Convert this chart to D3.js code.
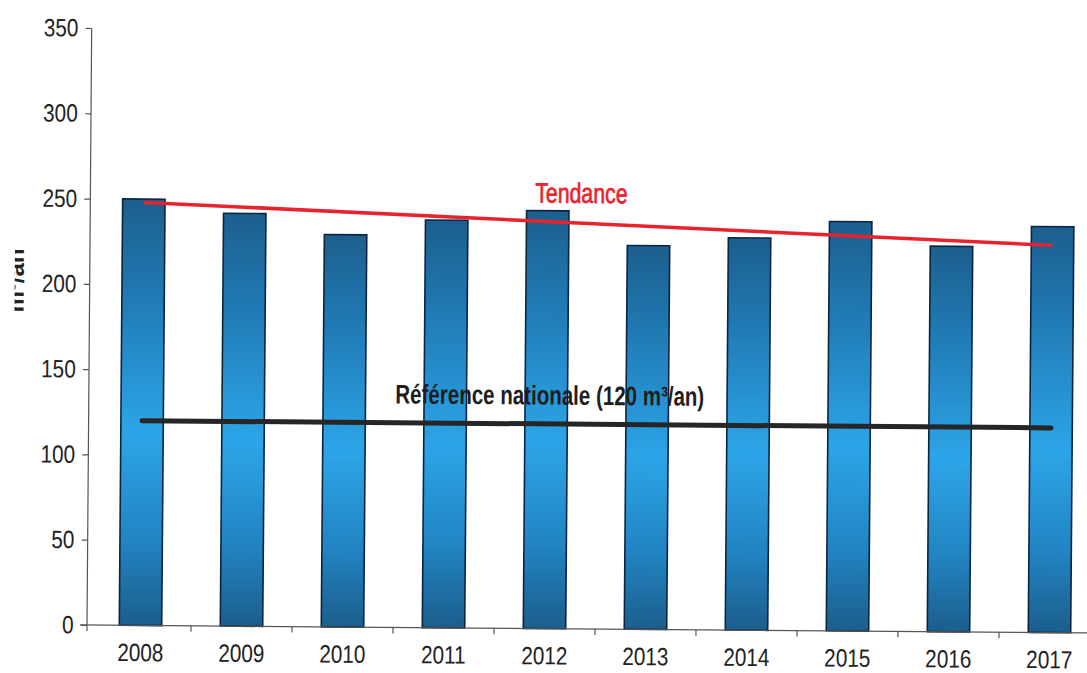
<!DOCTYPE html>
<html>
<head>
<meta charset="utf-8">
<script src="https://cdn.jsdelivr.net/npm/d3@7"></script>
<style>
  body { margin: 0; background: #fff; }
  svg { display: block; }
</style>
</head>
<body>
<svg id="chart" width="1087" height="673"></svg>
<script>
// Annual water consumption per household (m³/an)
const years = ["2008", "2009", "2010", "2011", "2012", "2013", "2014", "2015", "2016", "2017"];
const consumption = [250, 242, 230, 239, 245, 225, 230, 240, 226, 238];
const trendEnds = [248, 227];          // trend line value at first and last year
const nationalReference = 120;
const yTicks = [0, 50, 100, 150, 200, 250, 300, 350];
const yTitle = "m³/an";
const trendLabel = "Tendance";
const referenceLabel = "Référence nationale (120 m³/an)";

const svg = d3.select("#chart");
const sans = "'Liberation Sans', Arial, sans-serif";

const axisX = 87, baseY = 625, topY = 28;

const x = d3.scaleBand().domain(years).range([90, 1100]).paddingInner(0.58).paddingOuter(0.29);
const y = d3.scaleLinear().domain([0, 350]).range([baseY, topY]);

// bar fill: darker at the ends, bright blue in the lower middle
const defs = svg.append("defs");
const grad = defs.append("linearGradient").attr("id", "barFill")
  .attr("x1", 0).attr("y1", 0).attr("x2", 0).attr("y2", 1);
grad.append("stop").attr("offset", "0%").attr("stop-color", "#1c5f8d");
grad.append("stop").attr("offset", "22%").attr("stop-color", "#2079b3");
grad.append("stop").attr("offset", "55%").attr("stop-color", "#2ca5e8");
grad.append("stop").attr("offset", "80%").attr("stop-color", "#2284c2");
grad.append("stop").attr("offset", "100%").attr("stop-color", "#1b5e8c");

defs.append("clipPath").attr("id", "titleClip")
  .append("rect").attr("x", 12).attr("y", 0).attr("width", 60).attr("height", 673);

// whole chart sits slightly tilted
const g = svg.append("g").attr("transform", `rotate(0.45, ${axisX}, ${baseY})`);

// y axis title
g.append("g").attr("clip-path", "url(#titleClip)")
  .append("text")
  .attr("transform", "translate(21, 281) rotate(-90)")
  .attr("text-anchor", "middle")
  .attr("font-family", sans)
  .attr("font-weight", "bold")
  .attr("font-size", 24)
  .attr("fill", "#222")
  .text(yTitle);

// bars
g.append("g").selectAll("rect")
  .data(consumption)
  .join("rect")
  .attr("x", (d, i) => x(years[i]))
  .attr("y", d => y(d))
  .attr("width", x.bandwidth())
  .attr("height", d => baseY - y(d))
  .attr("fill", "url(#barFill)")
  .attr("stroke", "#0d2440")
  .attr("stroke-width", 1.6);

// y axis
const yAxis = g.append("g")
  .attr("transform", `translate(${axisX},0)`)
  .call(d3.axisLeft(y).tickValues(yTicks).tickSize(6).tickSizeOuter(0).tickPadding(10));
yAxis.select(".domain").remove();
yAxis.append("line")
  .attr("x1", 0).attr("x2", 0)
  .attr("y1", topY).attr("y2", baseY + 6)
  .attr("stroke", "#555").attr("stroke-width", 1.2);
yAxis.selectAll(".tick line").attr("stroke", "#555").attr("stroke-width", 1.2);
yAxis.selectAll(".tick text")
  .attr("font-family", sans)
  .attr("font-size", 25)
  .attr("transform", "scale(0.83,1)")
  .attr("fill", "#222");

// x axis baseline, separators and year labels
g.append("line")
  .attr("x1", axisX - 7).attr("x2", 1120)
  .attr("y1", baseY).attr("y2", baseY)
  .attr("stroke", "#555").attr("stroke-width", 1.2);

const step = x.step();
g.append("g").selectAll("line")
  .data(years.slice(1))
  .join("line")
  .attr("x1", d => x(d) - (step - x.bandwidth()) / 2)
  .attr("x2", d => x(d) - (step - x.bandwidth()) / 2)
  .attr("y1", baseY).attr("y2", baseY + 6)
  .attr("stroke", "#555").attr("stroke-width", 1.2);

const xAxis = g.append("g")
  .attr("transform", `translate(0,${baseY})`)
  .call(d3.axisBottom(x).tickSize(0).tickPadding(18));
xAxis.select(".domain").remove();
xAxis.selectAll(".tick text")
  .attr("font-family", sans)
  .attr("font-size", 25)
  .attr("transform", "scale(0.83,1)")
  .attr("fill", "#222");

const cx = d => x(d) + x.bandwidth() / 2;
const first = years[0], last = years[years.length - 1];

// national reference line
g.append("line")
  .attr("x1", cx(first)).attr("x2", cx(last))
  .attr("y1", y(nationalReference)).attr("y2", y(nationalReference))
  .attr("stroke", "#262626").attr("stroke-width", 5)
  .attr("stroke-linecap", "round");

// trend line
g.append("line")
  .attr("x1", cx(first)).attr("x2", cx(last))
  .attr("y1", y(trendEnds[0])).attr("y2", y(trendEnds[1]))
  .attr("stroke", "#e8232e").attr("stroke-width", 3.5);

// labels
g.append("text")
  .attr("transform", "translate(578,199) scale(0.76,1)")
  .attr("text-anchor", "middle")
  .attr("font-family", sans)
  .attr("font-size", 28)
  .attr("fill", "#e8232e")
  .attr("stroke", "#e8232e")
  .attr("stroke-width", 0.7)
  .text(trendLabel);

g.append("text")
  .attr("transform", "translate(548,401) scale(0.76,1)")
  .attr("text-anchor", "middle")
  .attr("font-family", sans)
  .attr("font-weight", "bold")
  .attr("font-size", 27)
  .attr("fill", "#1e1e1e")
  .text(referenceLabel);
</script>
</body>
</html>
